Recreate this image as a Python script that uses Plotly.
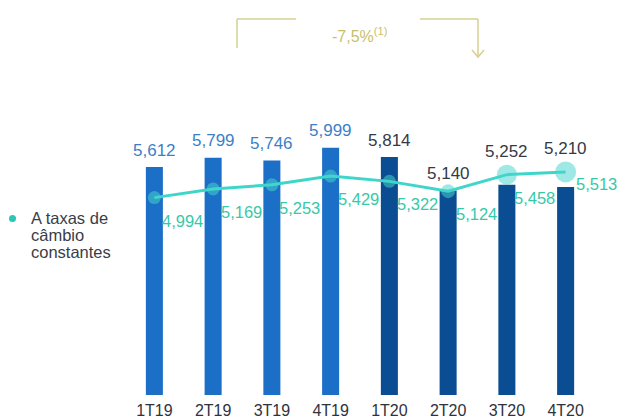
import plotly.graph_objects as go

# Quarterly values
quarters = ["1T19", "2T19", "3T19", "4T19", "1T20", "2T20", "3T20", "4T20"]
reported = [5612, 5799, 5746, 5999, 5814, 5140, 5252, 5210]
constant_fx = [4994, 5169, 5253, 5429, 5322, 5124, 5458, 5513]
change_label = "-7,5%<sup>(1)</sup>"
legend_lines = ["A taxas de", "câmbio", "constantes"]

BLUE_19 = "#1c6fc6"
BLUE_20 = "#0b4d92"
TEAL = "#3ed6c9"
TEAL_TXT = "#36c9a8"
GOLD = "#d6d08f"
FONT = "Arial, Liberation Sans, sans-serif"

# plot-area geometry (pixels) used to convert decorations to paper coords
W, H = 622, 418
L, R, T, B = 125, 27, 100, 23
PW, PH = W - L - R, H - T - B


def px_x(x):
    return (x - L) / PW


def px_y(y):
    return (H - B - y) / PH


bar_colors = [BLUE_19 if q.endswith("19") else BLUE_20 for q in quarters]
fig = go.Figure()
fig.add_trace(go.Bar(
    x=quarters, y=reported, marker=dict(color=bar_colors, line=dict(width=0)),
    width=0.29, showlegend=False, hoverinfo="skip",
))
marker_sizes = [13, 13, 13, 13, 13, 14, 20, 21]
fig.add_trace(go.Scatter(
    x=quarters, y=constant_fx, mode="lines+markers",
    line=dict(color=TEAL, width=3),
    marker=dict(size=marker_sizes, color="rgba(70,214,206,0.75)",
                line=dict(width=0)),
    showlegend=False, hoverinfo="skip",
))

annotations = []
# reported-value labels above each bar (or above the marker when it is higher)
for q, v, c in zip(quarters, reported, constant_fx):
    top = max(v, c)
    annotations.append(dict(
        x=q, y=top, xref="x", yref="y", text=f"{v:,}", showarrow=False,
        yanchor="middle", yshift=17 if v >= c else 23,
        font=dict(size=17, family=FONT,
                  color="#3c7fc8" if q.endswith("19") else "#353a45"),
    ))
# constant-FX labels below-right of each point
for i, (q, c) in enumerate(zip(quarters, constant_fx)):
    last = i == len(quarters) - 1
    annotations.append(dict(
        x=q, y=c, xref="x", yref="y", text=f"{c:,}", showarrow=False,
        xshift=31 if last else 28, yshift=-12 if last else -23,
        font=dict(size=16.5, family=FONT, color=TEAL_TXT),
    ))
# change label
annotations.append(dict(
    x=px_x(360), y=px_y(23), xref="paper", yref="paper", text=change_label,
    showarrow=False, font=dict(size=16, family=FONT, color="#c8bf6c"),
))
# legend text, one line per annotation for tight line spacing
for k, line in enumerate(legend_lines):
    annotations.append(dict(
        x=px_x(29), y=px_y(218 + 17 * k), xref="paper", yref="paper",
        text=line, showarrow=False, xanchor="left", yanchor="middle",
        font=dict(size=16.5, family=FONT, color="#3a3d47"),
    ))

gold_line = dict(color=GOLD, width=1.5)
shapes = [
    dict(type="line", xref="paper", yref="paper", x0=px_x(237), x1=px_x(296),
         y0=px_y(19), y1=px_y(19), line=gold_line),
    dict(type="line", xref="paper", yref="paper", x0=px_x(237), x1=px_x(237),
         y0=px_y(19), y1=px_y(48), line=gold_line),
    dict(type="line", xref="paper", yref="paper", x0=px_x(420), x1=px_x(478),
         y0=px_y(19), y1=px_y(19), line=gold_line),
    dict(type="line", xref="paper", yref="paper", x0=px_x(478), x1=px_x(478),
         y0=px_y(19), y1=px_y(57), line=gold_line),
    dict(type="path", xref="paper", yref="paper",
         path=(f"M {px_x(472)},{px_y(50)} L {px_x(478)},{px_y(57)} "
               f"L {px_x(484)},{px_y(50)}"),
         line=gold_line),
    dict(type="circle", xref="paper", yref="paper",
         x0=px_x(9), x1=px_x(16), y0=px_y(215), y1=px_y(222),
         fillcolor="#2cc6b6", line=dict(width=0)),
]

fig.update_layout(
    width=W, height=H, margin=dict(l=L, r=R, t=T, b=B),
    paper_bgcolor="white", plot_bgcolor="white",
    font=dict(family=FONT),
    annotations=annotations, shapes=shapes,
    xaxis=dict(showgrid=False, zeroline=False, showline=False, ticks="",
               tickfont=dict(size=16, color="#2f333d", family=FONT),
               ticklabelstandoff=4, automargin=False, range=[-0.5, 7.5]),
    yaxis=dict(visible=False, range=[1006, 6966], automargin=False),
)
fig.write_html("out.html")
